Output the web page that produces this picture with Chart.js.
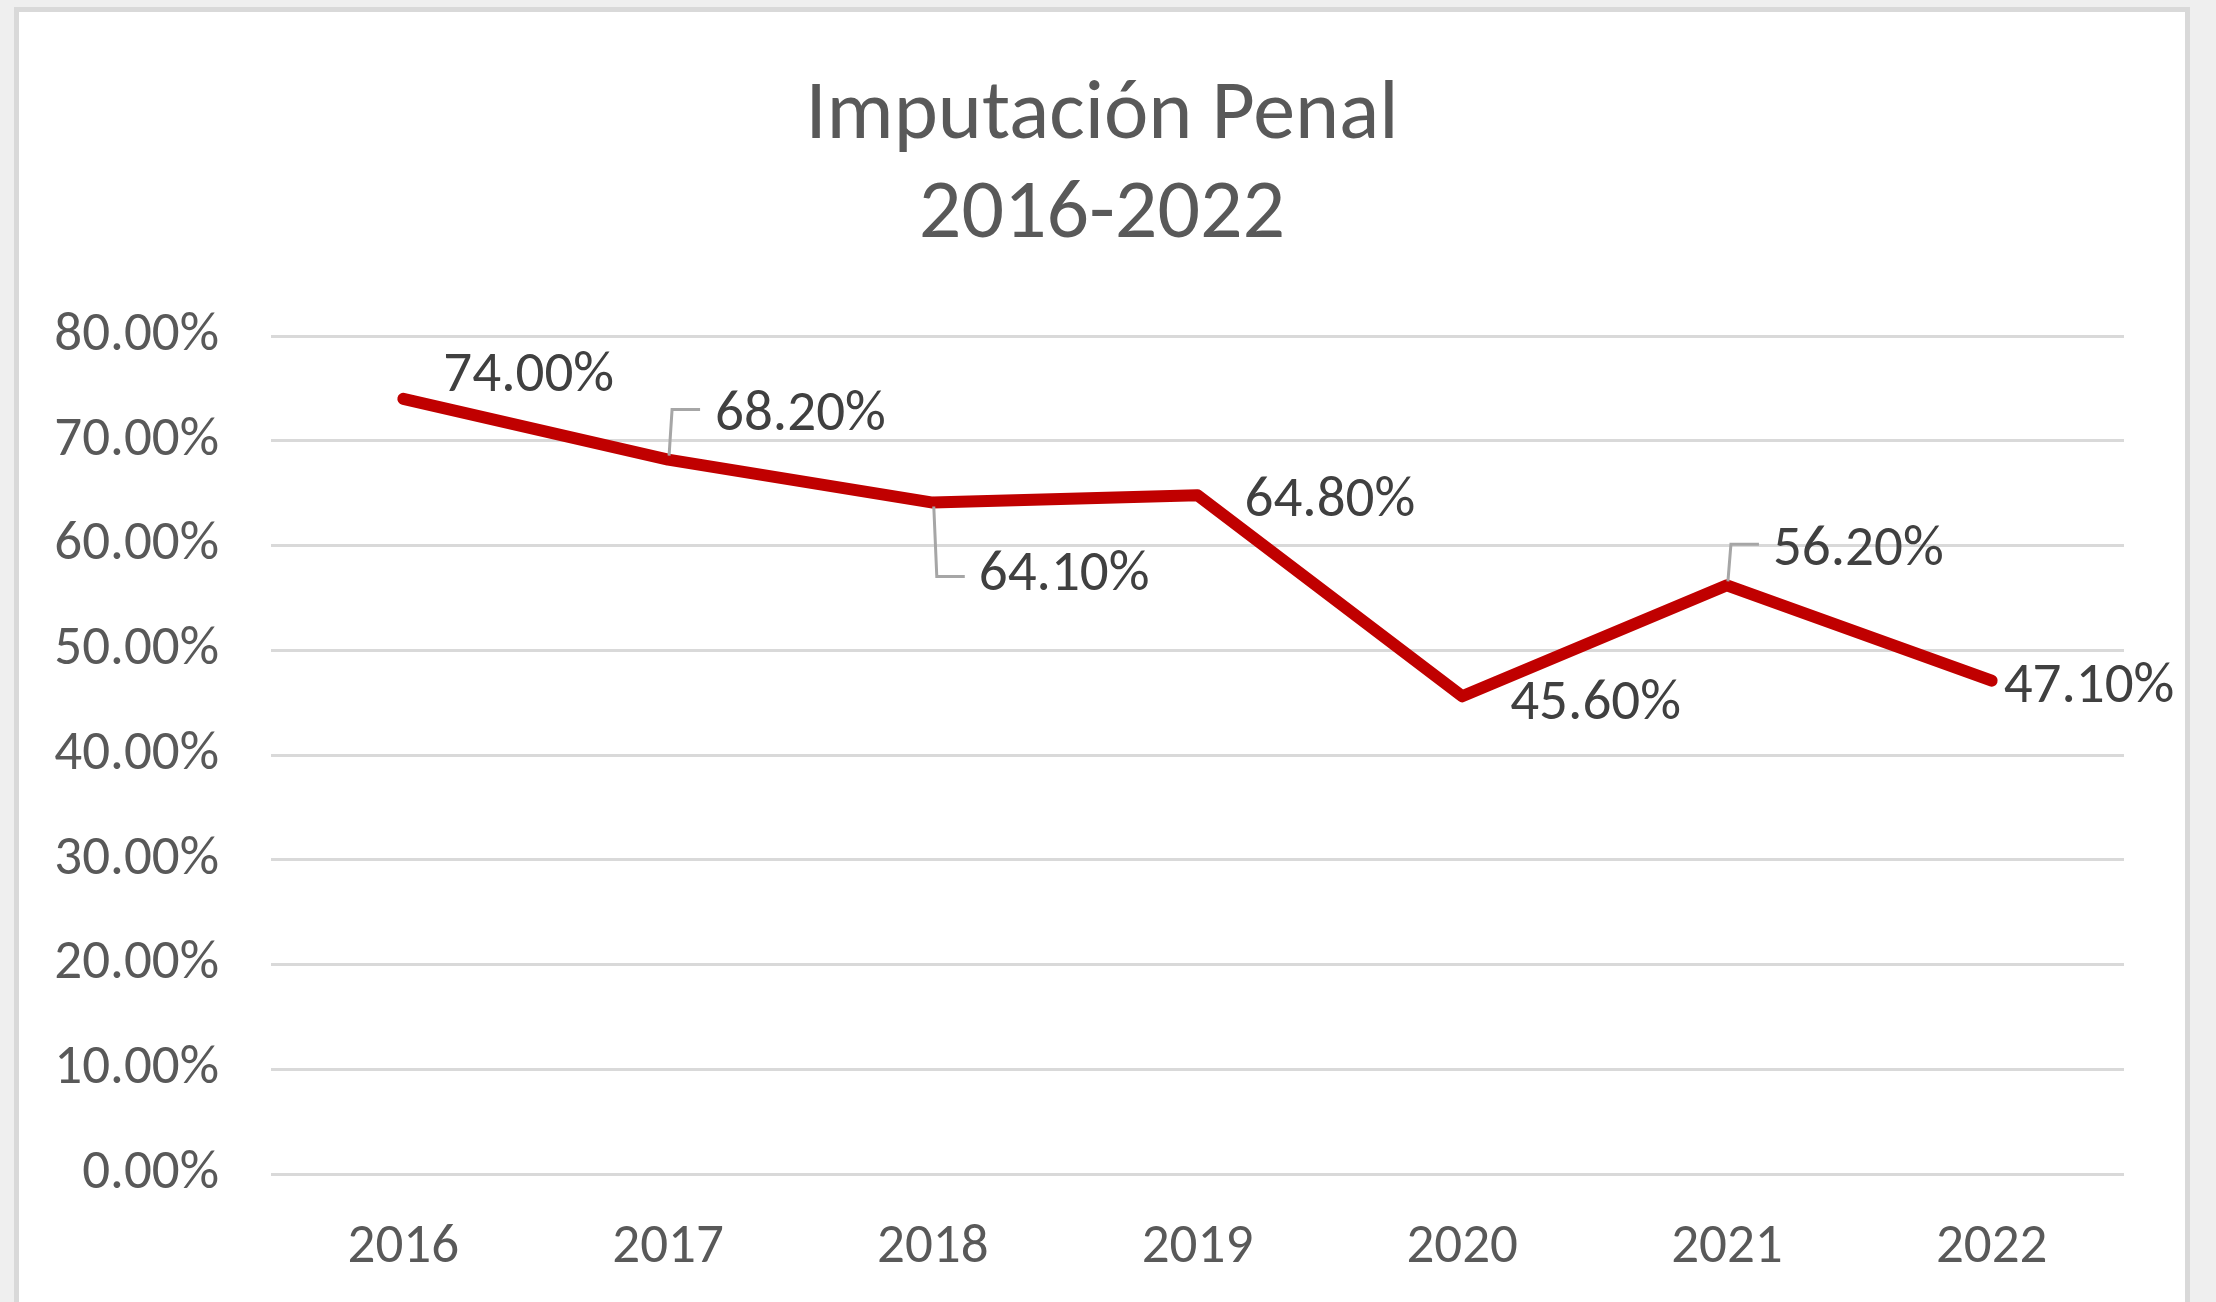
<!DOCTYPE html>
<html>
<head>
<meta charset="utf-8">
<title>Imputación Penal 2016-2022</title>
<script src="https://cdn.jsdelivr.net/npm/chart.js@4.4.0/dist/chart.umd.min.js"></script>
<style>
    html, body {
        margin: 0;
        padding: 0;
        background: #efefef;
        overflow: hidden;
    }
    #frame {
        position: absolute;
        left: 14px;
        top: 7px;
        width: 2166px;
        height: 1320px;
        background: #ffffff;
        border: 5px solid #d9d9d9;
    }
    #wrap {
        position: absolute;
        left: 0;
        top: 0;
        width: 2216px;
        height: 1302px;
    }
</style>
</head>
<body>
<div id="frame"></div>
<div id="wrap"><canvas id="lineChart" width="2216" height="1302"></canvas></div>
<script>
// Chart data
var years = ['2016', '2017', '2018', '2019', '2020', '2021', '2022'];
var imputacionValues = [74.0, 68.2, 64.1, 64.8, 45.6, 56.2, 47.1];
var yTicks = [0, 10, 20, 30, 40, 50, 60, 70, 80];
var titleLines = ['Imputación Penal', '2016-2022'];

var FONT = "Carlito, Lato, 'Open Sans', sans-serif";

// Title drawn centred on the white frame (the built-in one centres on the layout box)
var frameTitle = {
    id: 'frameTitle',
    afterDraw: function (chart, args, opts) {
        var ctx = chart.ctx;
        ctx.save();
        ctx.fillStyle = opts.color;
        ctx.font = opts.font;
        ctx.textAlign = 'center';
        ctx.textBaseline = 'middle';
        opts.lines.forEach(function (line, i) {
            ctx.fillText(line, chart.width / 2 - 6, opts.top + i * opts.lineGap);
        });
        ctx.restore();
    }
};

// Simple data label plugin (no datalabels plugin offline)
var pointLabels = {
    id: 'pointLabels',
    afterDatasetsDraw: function (chart, args, opts) {
        var ctx = chart.ctx;
        var meta = chart.getDatasetMeta(0);
        var data = chart.data.datasets[0].data;
        ctx.save();
        meta.data.forEach(function (pt, i) {
            var p = opts.place[i];
            // leader line: up/down from the point, then across to the label
            if (p.leader) {
                ctx.strokeStyle = opts.leaderColor;
                ctx.lineWidth = 3;
                ctx.beginPath();
                ctx.moveTo(pt.x + 1, pt.y + (p.dy < 0 ? -4 : 4));
                ctx.lineTo(pt.x + 4, pt.y + p.dy);
                ctx.lineTo(pt.x + 32, pt.y + p.dy);
                ctx.stroke();
            }
            var ty = p.ty !== undefined ? p.ty : p.dy + opts.textShift;
            ctx.fillStyle = opts.color;
            ctx.font = opts.font;
            ctx.textAlign = 'left';
            ctx.textBaseline = 'middle';
            ctx.fillText(data[i].toFixed(2) + '%', pt.x + p.dx, pt.y + ty);
        });
        ctx.restore();
    }
};

var ctx = document.getElementById('lineChart').getContext('2d');
new Chart(ctx, {
    type: 'line',
    data: {
        labels: years,
        datasets: [{
            label: 'Imputación Penal',
            data: imputacionValues,
            borderColor: '#c00000',
            backgroundColor: '#c00000',
            borderWidth: 12,
            borderCapStyle: 'round',
            borderJoinStyle: 'round',
            pointRadius: 0,
            tension: 0,
            fill: false
        }]
    },
    options: {
        responsive: false,
        animation: false,
        layout: {
            padding: { left: 20, right: 92, top: 336, bottom: 30 }
        },
        plugins: {
            legend: { display: false },
            tooltip: { enabled: false },
            title: { display: false },
            frameTitle: {
                lines: titleLines,
                color: '#595959',
                font: '84px ' + FONT,
                top: 117,
                lineGap: 99
            },
            pointLabels: {
                color: '#404040',
                leaderColor: '#a6a6a6',
                font: '57px ' + FONT,
                textShift: 6,
                // label placement relative to each point (px)
                place: [
                    { dx: 40, dy: -28 },
                    { dx: 47, dy: -50, leader: true },
                    { dx: 46, dy: 74, ty: 73, leader: true },
                    { dx: 47, dy: 1 },
                    { dx: 48, dy: 2 },
                    { dx: 46, dy: -41, leader: true },
                    { dx: 12, dy: 1 }
                ]
            }
        },
        scales: {
            x: {
                offset: true,
                afterFit: function (scale) { scale.height = 98; },
                grid: { display: false, drawTicks: false },
                border: { display: false },
                ticks: {
                    color: '#595959',
                    padding: 41,
                    font: { family: FONT, size: 55 }
                }
            },
            y: {
                min: 0,
                max: 80,
                afterFit: function (scale) { scale.width = 251; },
                afterBuildTicks: function (scale) {
                    scale.ticks = yTicks.map(function (v) { return { value: v }; });
                },
                grid: { color: '#d9d9d9', lineWidth: 3, drawTicks: false },
                border: { display: false },
                ticks: {
                    color: '#595959',
                    padding: 52,
                    font: { family: FONT, size: 55 },
                    callback: function (value) {
                        return value.toFixed(2) + '%';
                    }
                }
            }
        }
    },
    plugins: [pointLabels, frameTitle]
});
</script>
</body>
</html>
